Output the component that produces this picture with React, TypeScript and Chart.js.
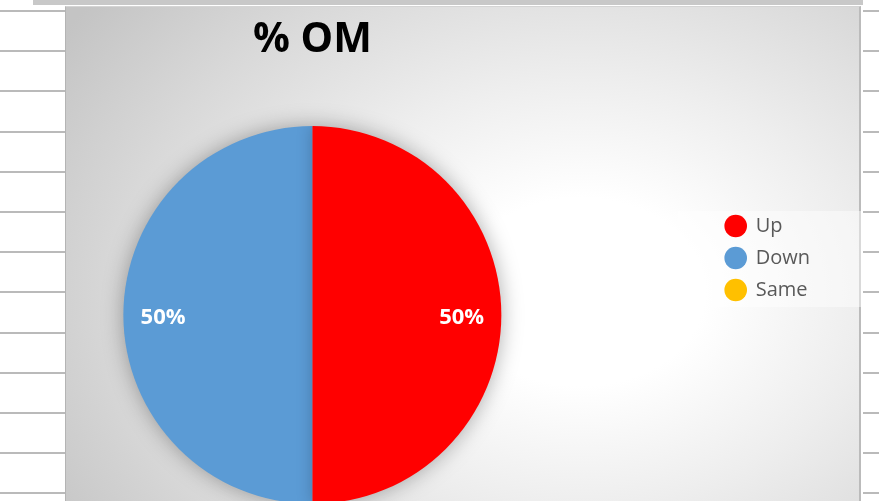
import { useEffect, useRef } from "react";
import { Chart, registerables } from "chart.js";

Chart.register(...registerables);

const categories: string[] = ["Up", "Down", "Same"];
const values: number[] = [50, 50, 0];
const sliceColors: string[] = ["#FF0000", "#5B9BD5", "#FFC000"];
const chartTitle = "% OM";

const FONT = "'Open Sans', 'DejaVu Sans', sans-serif";

const gridBg =
  "repeating-linear-gradient(to bottom, #ffffff 0px, #ffffff 10px, #bababa 10px, #bababa 12px, #ffffff 12px, #ffffff 40.2px)";

export default function App() {
  const ref = useRef<HTMLCanvasElement | null>(null);

  useEffect(() => {
    const canvas = ref.current;
    if (!canvas) return;

    const glow = {
      id: "glow",
      beforeDatasetsDraw(chart: any) {
        const arc: any = chart.getDatasetMeta(0).data[0];
        if (!arc) return;
        const p = arc.getProps(["x", "y", "outerRadius"], true);
        const ctx = chart.ctx;
        ctx.save();
        ctx.shadowColor = "rgba(0,0,0,0.35)";
        ctx.shadowBlur = 22;
        ctx.fillStyle = "#b0b0b0";
        ctx.beginPath();
        ctx.arc(p.x, p.y, p.outerRadius - 1, 0, Math.PI * 2);
        ctx.fill();
        ctx.restore();
      },
      afterDatasetsDraw(chart: any) {
        // soft shading cast by the first slice onto the following ones
        const els: any[] = chart.getDatasetMeta(0).data;
        if (els.length < 2) return;
        const a = els[0].getProps(["x", "y", "startAngle", "endAngle", "outerRadius"], true);
        const ctx = chart.ctx;
        for (let i = 1; i < els.length; i++) {
          const b = els[i].getProps(["x", "y", "startAngle", "endAngle", "outerRadius"], true);
          if (b.endAngle - b.startAngle <= 0) continue;
          ctx.save();
          ctx.beginPath();
          ctx.moveTo(b.x, b.y);
          ctx.arc(b.x, b.y, b.outerRadius, b.startAngle, b.endAngle);
          ctx.closePath();
          ctx.clip();
          ctx.shadowColor = "rgba(0,0,0,0.22)";
          ctx.shadowBlur = 16;
          ctx.fillStyle = sliceColors[0];
          ctx.beginPath();
          ctx.moveTo(a.x, a.y);
          ctx.arc(a.x, a.y, a.outerRadius, a.startAngle, a.endAngle);
          ctx.closePath();
          ctx.fill();
          ctx.restore();
        }
      },
    };

    const pctLabels = {
      id: "pctLabels",
      afterDatasetsDraw(chart: any) {
        const meta = chart.getDatasetMeta(0);
        const data = chart.data.datasets[0].data as number[];
        const total = data.reduce((a, b) => a + b, 0);
        const ctx = chart.ctx;
        ctx.save();
        ctx.font = `bold 22px ${FONT}`;
        ctx.fillStyle = "#ffffff";
        ctx.textAlign = "center";
        ctx.textBaseline = "middle";
        meta.data.forEach((el: any, i: number) => {
          const v = data[i];
          if (!v) return;
          const p = el.getProps(["x", "y", "startAngle", "endAngle", "outerRadius"], true);
          const mid = (p.startAngle + p.endAngle) / 2;
          const r = p.outerRadius * 0.79;
          ctx.fillText(
            Math.round((v / total) * 100) + "%",
            p.x + Math.cos(mid) * r,
            p.y + Math.sin(mid) * r + 3
          );
        });
        ctx.restore();
      },
    };

    const legendBox = {
      id: "legendBox",
      beforeDraw(chart: any) {
        const lg = chart.legend;
        if (!lg || !lg.legendHitBoxes || !lg.legendHitBoxes.length) return;
        const hb = lg.legendHitBoxes;
        const first = hb[0];
        const last = hb[hb.length - 1];
        const ctx = chart.ctx;
        ctx.save();
        ctx.fillStyle = "rgba(255,255,255,0.45)";
        const x0 = first.left - 48;
        const y0 = first.top - 5;
        ctx.fillRect(x0, y0, chart.width - x0, last.top + last.height + 7 - y0);
        ctx.restore();
      },
    };

    const chart = new Chart(canvas, {
      type: "pie",
      data: {
        labels: categories,
        datasets: [
          {
            data: values,
            backgroundColor: sliceColors,
            borderWidth: 0,
          },
        ],
      },
      options: {
        animation: false,
        responsive: false,
        maintainAspectRatio: false,
        layout: { padding: { top: 12, bottom: 0, left: 0, right: 42 } },
        plugins: {
          title: {
            display: true,
            text: chartTitle,
            fullSize: false,
            color: "#000000",
            font: { family: FONT, size: 41, weight: "bold", lineHeight: 1.2 },
            padding: { top: 4, bottom: 60.8 },
          },
          legend: {
            position: "right",
            labels: {
              usePointStyle: true,
              pointStyle: "circle",
              boxHeight: 16,
              padding: 12,
              color: "#595959",
              font: { family: FONT, size: 20 },
            },
          },
          tooltip: { enabled: false },
        },
      },
      plugins: [legendBox, glow, pctLabels],
    });

    return () => chart.destroy();
  }, []);

  return (
    <div
      style={{
        position: "absolute",
        left: 0,
        top: 0,
        width: 879,
        height: 501,
        overflow: "hidden",
        background: "#ffffff",
      }}
    >
      <div style={{ position: "absolute", left: 0, top: 0, width: 65, height: 501, background: gridBg }} />
      <div style={{ position: "absolute", left: 863, top: 0, width: 16, height: 501, background: gridBg }} />
      <div style={{ position: "absolute", left: 33, top: 0, width: 830, height: 5, background: "#c8c8c8" }} />
      <div
        style={{
          position: "absolute",
          left: 65,
          top: 6,
          width: 796,
          height: 520,
          boxSizing: "border-box",
          borderLeft: "1px solid #b4b4b4",
          borderRight: "2px solid #bbbbbb",
          borderTop: "1px solid #d4d4d4",
          background:
            "radial-gradient(ellipse 620px 470px at 515px 285px, #ffffff 0%, #ffffff 20%, #eeeeee 45%, #d8d8d8 75%, #c4c4c4 100%)",
        }}
      />
      <canvas
        ref={ref}
        width={951}
        height={504}
        style={{ position: "absolute", left: -89, top: 0, width: 951, height: 504 }}
      />
    </div>
  );
}
